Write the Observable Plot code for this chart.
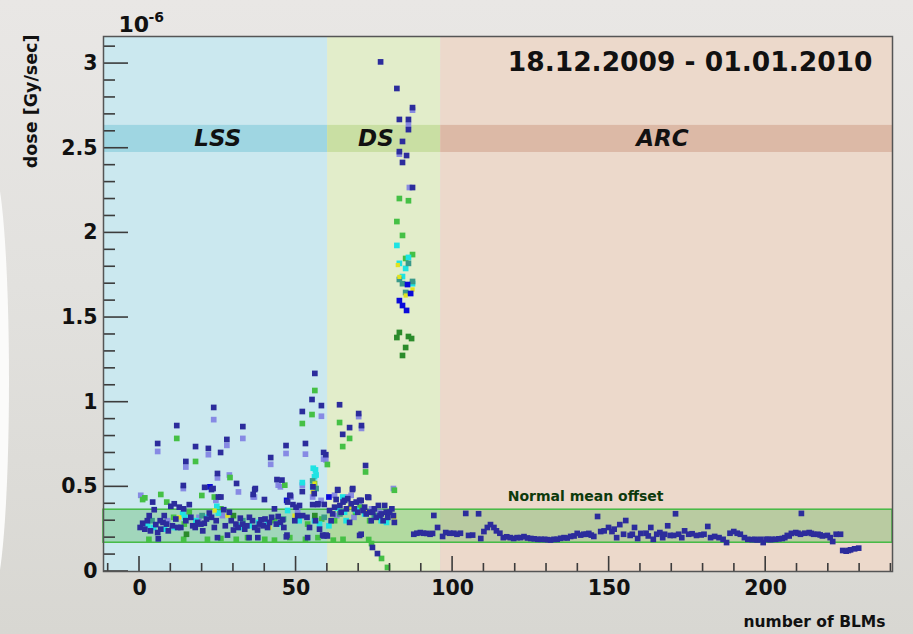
<!DOCTYPE html>
<html>
<head>
<meta charset="utf-8">
<script src="https://cdn.jsdelivr.net/npm/d3@7"></script>
<script src="https://cdn.jsdelivr.net/npm/@observablehq/plot@0.6"></script>
<style>
  html, body { margin: 0; padding: 0; }
  body {
    width: 913px; height: 634px; overflow: hidden; position: relative;
    background: linear-gradient(180deg, #e9e7e5 0%, #e2e1de 45%, #d8d7d2 100%);
  }
  #edge {
    position: absolute; left: -24px; top: 168px; width: 33px; height: 425px;
    background: #fbfbfa; border-radius: 50%;
  }
  #chart { position: absolute; left: 0; top: 0; }
</style>
</head>
<body>
<div id="edge"></div>
<div id="chart"></div>
<script>
// Dose per BLM, in units of 1e-6 Gy/sec; one array per plotted reading
const navyPoints = [
  [0.2,0.26],[1,0.285],[1.7,0.25],[2.5,0.3],[3.1,0.33],[3.5,0.24],[4.2,0.41],[4.7,0.365],[5.2,0.277],[5.8,0.23],
  [6.6,0.30],[6.8,0.25],[7.5,0.29],[7.9,0.33],[8.6,0.28],[9.2,0.24],[10,0.385],[10.5,0.27],[11.1,0.40],[11.6,0.31],
  [12.2,0.26],[12.7,0.38],[13.2,0.26],[14.1,0.37],[14.8,0.3],[15.9,0.395],[16.4,0.32],[17,0.27],[17.8,0.26],[18.6,0.29],
  [19.6,0.28],[20.2,0.24],[20.7,0.285],[21.4,0.31],[22.3,0.345],[23,0.32],[23.9,0.26],[24.5,0.3],[25.2,0.44],[26,0.44],
  [26.9,0.365],[27.4,0.27],[28.1,0.215],[28.7,0.35],[29.3,0.3],[30,0.245],[30.8,0.28],[31.5,0.26],[32.2,0.315],[32.9,0.28],
  [33.6,0.25],[34.3,0.27],[35.1,0.32],[36.1,0.30],[36.8,0.26],[37.7,0.245],[38.3,0.28],[38.8,0.305],[39.5,0.27],[40.1,0.31],
  [40.9,0.26],[41.5,0.29],[42.2,0.32],[43.1,0.37],[43.7,0.28],[44.3,0.325],[45,0.29],[45.7,0.305],[46.1,0.26],[47.1,0.215],
  [47.3,0.41],[48.2,0.449],[49,0.395],[49.6,0.3],[50,0.38],[50.5,0.33],[51.1,0.39],[52.1,0.33],[53.5,0.32],[54.3,0.26],
  [55.3,0.395],[56.2,0.3],[56.9,0.395],[57.5,0.25],[58.5,0.215],[59.6,0.215],[60.7,0.36],[61.2,0.3],[61.7,0.34],[62.3,0.38],
  [62.8,0.425],[63.3,0.48],[64,0.39],[64.4,0.35],[65,0.41],[65.5,0.42],[66.1,0.37],[66.5,0.43],[67.1,0.29],[67.6,0.4],
  [68.1,0.49],[68.6,0.37],[69.2,0.41],[69.7,0.35],[70.3,0.42],[70.8,0.42],[71.4,0.36],[71.9,0.38],[72.4,0.34],[72.9,0.44],
  [73.5,0.35],[74,0.3],[74.5,0.35],[75,0.37],[75.6,0.32],[76.3,0.39],[76.8,0.33],[77.2,0.34],[77.8,0.3],[78.3,0.39],
  [78.8,0.35],[79.3,0.32],[79.9,0.35],[80.6,0.37],[81.1,0.33],[81.4,0.29],
  [6,0.193],[24.9,0.2],[35,0.2],[37.8,0.2],[46.9,0.205],[53.7,0.2],[58.9,0.21],[60,0.21],
  [5.8,0.756],[11.9,0.862],[14.8,0.65],[17.9,0.738],[14,0.508],[20.8,0.497],[22,0.727],[23.7,0.969],[25.9,0.703],[27.9,0.78],
  [24.9,0.579],[23,0.484],[23.5,0.49],[31,0.52],[33,0.856],[36.8,0.484],[36.3,0.455],[37,0.49],[39.9,0.425],[41.9,0.673],
  [43.9,0.543],[45.5,0.54],[46.8,0.744],[48,0.449],[52,0.945],[53,0.756],[55.1,1.016],[56,1.17],[58.1,0.98],[58.8,0.703],
  [59.5,0.69],[52,0.472],[55.4,0.5],[55.8,0.46],[59,0.396],[57,0.40],
  [63.9,0.985],[70,0.933],[70.9,0.862],[67.1,0.85],[64.9,0.81],[72.2,0.626],[63.3,0.484],[68,0.484],[73.2,0.437],
  [70.3,0.213],[70.8,0.22],[74.4,0.142],[76,0.106],
  [77,3.01],[82.2,2.853],[87.2,2.74],[85.9,2.67],[83,2.67],[85.9,2.61],[84,2.54],[83,2.48],[85.3,2.457],[84,2.416],[87.2,2.268],
  [87.6,0.22],[88.6,0.226],[89.7,0.23],[90.7,0.226],[91.8,0.225],[92.8,0.22],[93.6,0.225],[94,0.331],[95.2,0.26],
  [96.8,0.207],[97.8,0.23],[99.1,0.226],[100.4,0.226],[101.4,0.22],[102.5,0.226],[104.2,0.343],[105.1,0.213],[106.4,0.215],[108.3,0.341],
  [109,0.195],[110,0.236],[111.1,0.26],[112.1,0.277],[113.2,0.26],[114,0.24],[115.1,0.226],[116.2,0.2],[117.3,0.205],[118.4,0.2],
  [119.5,0.195],[120.6,0.2],[121.7,0.2],[122.8,0.206],[123.9,0.198],[125,0.195],[126.1,0.193],[127.2,0.19],[128.3,0.19],[129.4,0.19],
  [130.3,0.188],[131.3,0.186],[132.4,0.19],[133.4,0.19],[134.5,0.196],[135.6,0.2],[136.6,0.198],[137.7,0.207],[138.8,0.21],[139.8,0.225],
  [140.9,0.215],[141.9,0.22],[142.7,0.22],[143.5,0.225],[144.3,0.215],[145.1,0.207],[146.3,0.325],[147.3,0.236],[148.4,0.24],[149.8,0.26],
  [150.9,0.236],[151.6,0.25],[152.4,0.2],[153.4,0.277],[154.6,0.22],[155.3,0.301],[156.7,0.213],[157.4,0.22],[158.1,0.26],[159.1,0.195],
  [160.1,0.225],[161.8,0.226],[162.5,0.21],[163.3,0.26],[164.1,0.19],[165.2,0.22],[166.2,0.23],[167.1,0.2],[167.7,0.22],[168.7,0.27],
  [169.5,0.213],[170.6,0.213],[171.2,0.341],[172.2,0.22],[173.2,0.2],[174.1,0.24],[175.4,0.22],[176.5,0.223],[177.9,0.213],[179.4,0.216],
  [180.3,0.22],[181.5,0.266],[182.4,0.2],[183.7,0.207],[185.1,0.2],[186.4,0.19],[187.5,0.171],[188.6,0.226],[189.8,0.236],[190.9,0.226],
  [191.9,0.22],[193.2,0.2],[194.3,0.19],[195.7,0.188],[196.5,0.19],[197.3,0.186],[198.3,0.19],[199.2,0.171],[200.1,0.19],[200.7,0.19],
  [201.5,0.188],[202.1,0.19],[203.2,0.19],[204.2,0.193],[205.3,0.195],[206.1,0.2],[206.9,0.213],[207.5,0.21],[208.2,0.225],[209.6,0.23],
  [210.3,0.226],[211.4,0.343],[211.1,0.22],[212.5,0.226],[213.9,0.23],[214.6,0.225],[215.3,0.22],[216.7,0.22],[217.4,0.216],[218.1,0.21],
  [219.7,0.213],[220.6,0.2],[221.4,0.177],[222.5,0.22],[223.9,0.22],
  [224.6,0.124],[225.7,0.12],[226.4,0.124],[227.1,0.128],[228.4,0.134],[229.7,0.138]
];
const lavenderPoints = [
  [5.8,0.709],[14.8,0.617],[14,0.49],[22,0.69],[23.7,0.897],[24.9,0.553],[27.9,0.745],[28.7,0.57],[31.6,0.47],[33,0.786],
  [36.3,0.44],[41.9,0.633],[44.3,0.51],[45,0.5],[46.8,0.697],[53,0.693],[58.1,0.917],[58.8,0.664],[59.5,0.66],[52,0.51],
  [55.3,0.44],[58,0.42],[62.3,0.45],[66.5,0.44],[67.6,0.45],[70.3,0.39],[74.1,0.37],[76.7,0.35],[70,0.915],[70.9,0.845],
  [81.1,0.49],[0.4,0.45],[2,0.28],[9,0.3],[15.5,0.35],[19,0.32],[24.4,0.42],[26.5,0.33],[36.7,0.44],[40.5,0.28],
  [48.4,0.44],[50.5,0.36],[63,0.33],[68.5,0.32],
  [87.2,2.725],[85.9,2.64],[83,2.465],[86.2,2.268]
];
const greenPoints = [
  [1,0.425],[1.7,0.435],[6.8,0.455],[8.7,0.41],[10.9,0.32],[11.9,0.786],[14.3,0.28],[15.9,0.35],[17.9,0.65],[19.9,0.449],
  [23.9,0.44],[26,0.37],[28.9,0.555],[43.1,0.30],[46.4,0.51],[52,0.874],[55.1,0.927],[56,1.069],[53.7,0.28],[55.9,0.52],
  [58.2,0.31],[60,0.632],[62.3,0.3],[63.9,0.88],[67.1,0.786],[64.9,0.738],[72.2,0.588],[65.5,0.42],[69,0.35],[70.5,0.38],
  [73.5,0.3],[81.4,0.48],[73.2,0.189],[74.1,0.165],[77.3,0.077],[79.2,0.024],
  [3,0.19],[14.1,0.19],[21.7,0.19],[26,0.195],[30.9,0.19],[34.5,0.2],[40,0.19],[43.1,0.185],[48,0.2],[53,0.19],
  [57,0.2],[61.9,0.185],[65,0.19],
  [83,2.203],[85.9,2.19],[82.2,2.067],[84,1.985],[87.2,1.872],[85,1.849]
];
const cyanPoints = [
  [2.6,0.27],[4.5,0.26],[8,0.25],[11.1,0.26],[13.8,0.34],[14.5,0.32],[18,0.3],[21.7,0.32],[24.7,0.385],[25.2,0.345],
  [31.3,0.27],[32.2,0.26],[35,0.27],[38,0.29],[40.9,0.285],[44.1,0.28],[47.3,0.36],[51,0.3],[55.3,0.5],[55.9,0.56],
  [56.4,0.57],[55.5,0.61],[56.2,0.6],[52,0.525],[55.9,0.3],[57.5,0.28],[60.5,0.27],[63.3,0.375],[64.9,0.44],[65.5,0.35],
  [69.2,0.36],[71.9,0.34],[77.2,0.30],[78.9,0.29],[66,0.3],
  [82.2,1.926],[85.9,1.855],[83,1.82],[85,1.79],[84,1.742],[87.2,1.70]
];
const yellowPoints = [
  [12.7,0.32],[28.1,0.33],[41.5,0.26],[55.3,0.47],[55.9,0.52],[67.1,0.38],[81.4,0.32],[24,0.36],[49.5,0.33],[72,0.36],
  [82.5,1.81],[83,1.74],[87.2,1.666],[85,1.63]
];
const tealPoints = [
  [55.3,0.535],[56.4,0.49],[64,0.34],[4,0.3],[20,0.33],[33,0.3],[46,0.31],[59,0.32],[75,0.33],
  [85.9,1.82],[83,1.725],[84,1.70],[87.2,1.713],[85,1.648]
];
const bluePoints = [
  [47,0.42],[22.5,0.5],[60.5,0.44],
  [85.6,1.695],[86.6,1.642],[83,1.6],[84,1.571],[85.3,1.542]
];
const darkGreenPoints = [
  [15,0.22],[30,0.33],[56,0.33],
  [83,1.412],[82.2,1.382],[85.9,1.388],[86.9,1.376],[85,1.323],[84,1.276]
];

// Detector regions along the ring (BLM index)
const regionNames = ["LSS", "DS", "ARC"];
const regionStart = [-11.5, 60.1, 96.2];
const regionEnd = [60.1, 96.2, 240.5];
const regionLabelX = [25, 75.5, 167];
const regionFill = ["#cbe8ef", "#e2edca", "#ecd9cb"];
const stripFill = ["#9fd6e2", "#c9dfa3", "#dcb9a6"];
const stripBand = [2.475, 2.635];

// Band of the normal mean offset
const offsetBand = [0.17, 0.365];
const offsetLabel = ["Normal mean offset"];
const offsetLabelAt = [142.5, 0.443];

// Axes
const xDomain = [-11.5, 240.5];
const yDomain = [0, 3.16];
const xMajor = [0, 50, 100, 150, 200];
const xMinor = [-10, 10, 20, 30, 40, 60, 70, 80, 90, 110, 120, 130, 140, 160, 170, 180, 190, 210, 220, 230, 240];
const yMajor = [0, 0.5, 1, 1.5, 2, 2.5, 3];
const yMinor = [0.1, 0.2, 0.3, 0.4, 0.6, 0.7, 0.8, 0.9, 1.1, 1.2, 1.3, 1.4, 1.6, 1.7, 1.8, 1.9,
  2.1, 2.2, 2.3, 2.4, 2.6, 2.7, 2.8, 2.9, 3.1];

const title = "18.12.2009 - 01.01.2010";

// Layout
const W = 913, H = 634;
const M = {left: 103, right: 21, top: 36, bottom: 63};
const frameW = W - M.left - M.right;
const frameH = H - M.top - M.bottom;

const FONT = "DejaVu Sans";
const INK = "#111";
const TICK = "#3c3c3c";
const series = [
  [navyPoints, "#2c2c9c"],
  [lavenderPoints, "#7f80e2"],
  [greenPoints, "#45c045"],
  [cyanPoints, "#1ee3e3"],
  [tealPoints, "#3a9a8a"],
  [yellowPoints, "#e2e21e"],
  [bluePoints, "#0a0ada"],
  [darkGreenPoints, "#2b8b2b"]
];
// draw order: lighter readings first, navy on top
const drawOrder = [1, 2, 3, 4, 5, 6, 7, 0];

const regions = regionNames.map((name, i) => ({
  name, x1: regionStart[i], x2: regionEnd[i], lx: regionLabelX[i], fill: regionFill[i], strip: stripFill[i]
}));

// tick sizes in pixels, expressed in data units of each axis
const xPerPx = (xDomain[1] - xDomain[0]) / frameW;
const yPerPx = (yDomain[1] - yDomain[0]) / frameH;
const TICK_W = 1.6;
const tickRowsY = [...yMajor.map(v => ({v, len: 25})), ...yMinor.map(v => ({v, len: 12}))];
const tickRowsX = [...xMajor.map(v => ({v, len: 15})), ...xMinor.map(v => ({v, len: 8}))];

const chart = Plot.plot({
  width: W,
  height: H,
  marginLeft: M.left,
  marginRight: M.right,
  marginTop: M.top,
  marginBottom: M.bottom,
  x: {domain: xDomain},
  y: {domain: yDomain},
  style: {background: "transparent", fontFamily: FONT, color: INK, overflow: "visible"},
  marks: [
    Plot.rect(regions, {x1: "x1", x2: "x2", y1: yDomain[0], y2: yDomain[1], fill: "fill"}),
    Plot.rect(regions, {x1: "x1", x2: "x2", y1: stripBand[0], y2: stripBand[1], fill: "strip"}),
    Plot.rect([offsetBand], {x1: xDomain[0], x2: xDomain[1], y1: d => d[0], y2: d => d[1],
      fill: "#2fa82f", fillOpacity: 0.27, stroke: "#44b944", strokeWidth: 1.5}),
    ...drawOrder.map(i => Plot.dot(series[i][0], {
      x: d => d[0], y: d => d[1], symbol: "square", r: i === 5 ? 2.4 : 3.2,
      fill: series[i][1], fillOpacity: i === 1 ? 0.9 : 1
    })),
    Plot.text(regions, {x: "lx", y: (stripBand[0] + stripBand[1]) / 2, text: "name",
      fontSize: 23, fontWeight: "bold", fontStyle: "italic", fill: INK}),
    Plot.text(offsetLabel, {x: offsetLabelAt[0], y: offsetLabelAt[1], text: d => d,
      fontSize: 14, fontWeight: "bold", fill: "#0c3a0c"}),
    Plot.axisY(yMajor, {anchor: "left", tickSize: 0, tickPadding: 6, label: null,
      tickFormat: d => String(d), fontSize: 20.5, fontWeight: "bold", fill: INK}),
    Plot.axisX(xMajor, {anchor: "bottom", tickSize: 0, tickPadding: 9, label: null,
      tickFormat: d => String(d), fontSize: 20.5, fontWeight: "bold", fill: INK}),
    // inward ticks on the left and bottom edges, as thin filled bars
    Plot.rect(tickRowsY, {
      x1: xDomain[0], x2: d => xDomain[0] + d.len * xPerPx,
      y1: d => d.v - TICK_W / 2 * yPerPx, y2: d => d.v + TICK_W / 2 * yPerPx,
      fill: TICK}),
    Plot.rect(tickRowsX, {
      x1: d => d.v - TICK_W / 2 * xPerPx, x2: d => d.v + TICK_W / 2 * xPerPx,
      y1: yDomain[0], y2: d => yDomain[0] + d.len * yPerPx,
      fill: TICK}),
    Plot.frame({stroke: "#555", strokeWidth: 1.5}),
    // title and axis captions
    Plot.text([title], {frameAnchor: "top-right", text: d => d, textAnchor: "end", lineAnchor: "middle",
      dx: -20, dy: 26, fontSize: 26.5, fontWeight: "bold", fill: INK}),
    Plot.text(["dose [Gy/sec]"], {frameAnchor: "top-left", text: d => d, rotate: -90, textAnchor: "end",
      lineAnchor: "middle", dx: -72, dy: -2, fontSize: 17.5, fontWeight: "bold", fill: INK}),
    Plot.text(["10"], {frameAnchor: "top-left", text: d => d, textAnchor: "start", lineAnchor: "middle",
      dx: 15, dy: -12, fontSize: 22, fontWeight: "bold", fill: INK}),
    Plot.text(["-6"], {frameAnchor: "top-left", text: d => d, textAnchor: "start", lineAnchor: "middle",
      dx: 45, dy: -19, fontSize: 14, fontWeight: "bold", fill: INK}),
    Plot.text(["number of BLMs"], {frameAnchor: "bottom-right", text: d => d, textAnchor: "end",
      lineAnchor: "middle", dx: -7, dy: 51, fontSize: 15.5, fontWeight: "bold", fill: INK})
  ]
});
document.getElementById("chart").appendChild(chart);
</script>
</body>
</html>
